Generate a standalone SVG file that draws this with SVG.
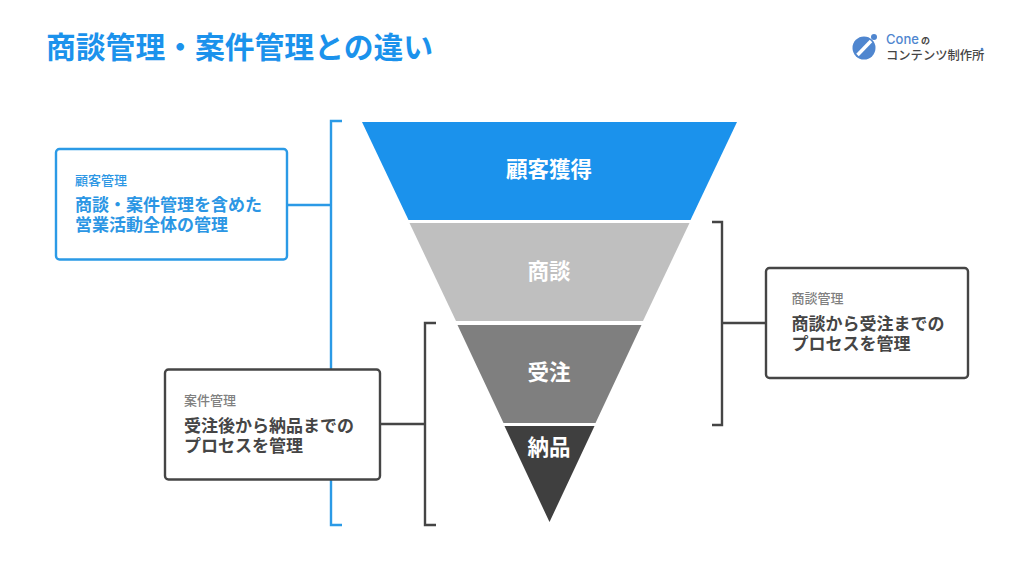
<svg xmlns="http://www.w3.org/2000/svg" width="1024" height="576" viewBox="0 0 1024 576">
<style>
text{font-family:"Noto Sans CJK JP","Noto Sans",sans-serif;font-weight:700}
.box{fill:#fff;stroke-width:2.4}
.blue{stroke:#2b9ae6}.dark{stroke:#454545}
.line{fill:none;stroke-width:2.4}
.seg{font-size:21.500px;fill:#fff;text-anchor:middle}
.sm{font-size:13px;font-weight:500}
.lg{font-size:17px}
.fb{fill:#2b96e4}.fg{fill:#808080}.fd{fill:#454545}
</style>
<rect width="1024" height="576" fill="#fff"/>
<text id="title" x="46" y="58" font-size="29.800" fill="#1b92ec">商談管理・案件管理との違い</text>
<g id="logo">
<circle cx="864" cy="48" r="11.500" fill="#4f86cf"/>
<path d="M857.500 55L871 41" stroke="#fff" stroke-width="3.500" fill="none"/>
<circle cx="874" cy="37" r="3" fill="#4f86cf"/>
<text x="886" y="44" font-size="13" fill="#4f86cf" style="font-family:Inter,sans-serif;font-weight:500">Cone</text>
<text x="921" y="44" font-size="9" fill="#454545">の</text>
<text x="886" y="60" font-size="12.300" fill="#454545" style="font-weight:500">コンテンツ制作所</text>
<circle cx="982" cy="49" r="1.300" fill="#4f86cf"/>
</g>
<g id="connectors">
<path class="line blue" d="M342 121H331V525H342M288 205H331"/>
<path class="line dark" d="M436 323H425V525H436M381 424H425"/>
<path class="line dark" d="M712 222H722V425H712M722 323H766"/>
</g>
<g id="funnel-1"><polygon points="362,122 737,122 690.500,220 408.500,220" fill="#1b92ec"/><text class="seg" x="549" y="177">顧客獲得</text></g>
<g id="funnel-2"><polygon points="409.500,223 689.500,223 643,321 456,321" fill="#bfbfbf"/><text class="seg" x="549" y="279">商談</text></g>
<g id="funnel-3"><polygon points="457.500,325 641.500,325 595.500,423 503.500,423" fill="#7f7f7f"/><text class="seg" x="549" y="380">受注</text></g>
<g id="funnel-4"><polygon points="504.500,426 594.500,426 549.500,522" fill="#3f3f3f"/><text class="seg" x="549" y="454.500">納品</text></g>
<g id="node-customer">
<rect class="box blue" x="56" y="149" width="231" height="110.500" rx="3.500"/>
<text class="sm fb" x="75" y="185">顧客管理</text>
<text class="lg fb"><tspan x="75" y="210.500">商談・案件管理を含めた</tspan><tspan x="75" y="231">営業活動全体の管理</tspan></text>
</g>
<g id="node-project">
<rect class="box dark" x="165" y="369.500" width="215" height="110" rx="3.500"/>
<text class="sm fg" x="184" y="405">案件管理</text>
<text class="lg fd"><tspan x="184" y="431.500">受注後から納品までの</tspan><tspan x="184" y="452">プロセスを管理</tspan></text>
</g>
<g id="node-deal">
<rect class="box dark" x="766" y="268" width="202" height="110" rx="3.500"/>
<text class="sm fg" x="791.500" y="303">商談管理</text>
<text class="lg fd"><tspan x="791.500" y="330">商談から受注までの</tspan><tspan x="791.500" y="350">プロセスを管理</tspan></text>
</g>
</svg>
